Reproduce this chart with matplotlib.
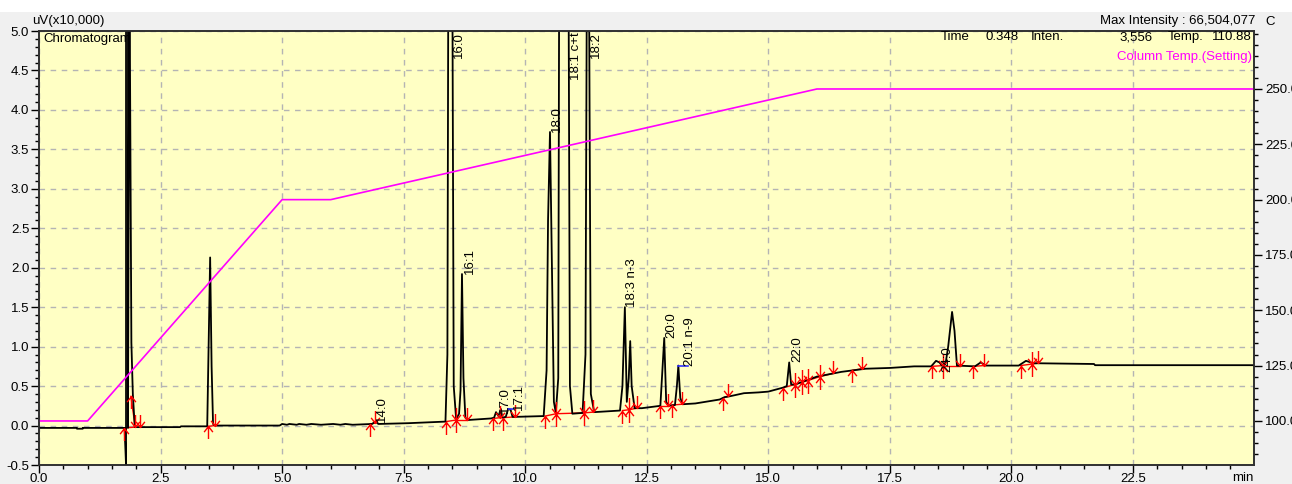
import numpy as np
import matplotlib.pyplot as plt
from matplotlib.path import Path
from matplotlib.patches import Rectangle
from matplotlib.ticker import MultipleLocator, FixedLocator, FormatStrFormatter

plt.rcParams['font.family'] = ['Liberation Sans', 'DejaVu Sans']
plt.rcParams['font.size'] = 9.5

# chromatogram trace, time (min) and signal (uV x10,000)
trace_t = [0.00, 0.78, 0.78, 0.90, 0.90, 1.76, 1.79, 1.80, 1.83, 1.86, 1.90, 1.93, 1.97,
           2.90, 2.92, 3.46, 3.52, 3.55, 3.58, 3.62, 4.95, 5.00, 5.10, 5.15, 5.30, 5.35,
           5.50, 5.60, 5.80, 6.05, 6.20, 6.30, 6.45, 6.85, 6.92, 6.98, 7.60, 8.00, 8.36,
           8.40, 8.42, 8.50, 8.53, 8.58, 8.64, 8.67, 8.70, 8.73, 8.77, 8.82, 9.30, 9.36,
           9.40, 9.45, 9.50, 9.53, 9.60, 9.65, 9.70, 9.74, 9.80, 10.38, 10.44, 10.47,
           10.51, 10.55, 10.59, 10.63, 10.68, 10.70, 10.89, 10.92, 10.97, 11.18, 11.24,
           11.27, 11.31, 11.35, 11.42, 11.95, 12.00, 12.05, 12.09, 12.13, 12.16, 12.19,
           12.25, 12.40, 12.78, 12.83, 12.86, 12.90, 12.95, 13.08, 13.12, 13.15, 13.19,
           13.24, 13.50, 14.00, 14.10, 14.20, 14.50, 14.80, 15.00, 15.30, 15.38, 15.43,
           15.47, 15.55, 16.00, 16.50, 17.00, 17.50, 18.00, 18.35, 18.45, 18.52, 18.57,
           18.65, 18.70, 18.78, 18.83, 18.88, 19.25, 19.37, 19.47, 20.15, 20.30, 20.45,
           21.70, 21.72, 25.00]
trace_y = [-0.03, -0.03, -0.04, -0.04, -0.03, -0.03, -0.50, 6650.4, -0.03, 6.0, 1.05, 0.40, -0.02,
           -0.02, -0.01, -0.01, 2.13, 0.75, 0.02, 0.00, 0.00, 0.02, 0.01, 0.02, 0.01, 0.02,
           0.01, 0.02, 0.01, 0.02, 0.01, 0.02, 0.01, 0.02, 0.05, 0.02, 0.03, 0.04, 0.05,
           0.90, 6.0, 6.0, 0.50, 0.08, 0.15, 0.45, 1.92, 0.60, 0.10, 0.07, 0.09, 0.10,
           0.17, 0.12, 0.21, 0.10, 0.11, 0.21, 0.20, 0.11, 0.11, 0.12, 0.70, 2.60,
           3.72, 2.00, 0.30, 0.16, 0.60, 6.0, 6.0, 0.50, 0.15, 0.16, 0.90,
           6.0, 6.0, 0.40, 0.17, 0.19, 0.50, 1.50, 0.30, 0.60, 1.07, 0.50,
           0.22, 0.22, 0.25, 0.80, 1.11, 0.30, 0.25, 0.26, 0.50, 0.76, 0.35,
           0.27, 0.28, 0.33, 0.36, 0.37, 0.41, 0.42, 0.43, 0.48, 0.50, 0.80,
           0.52, 0.52, 0.62, 0.68, 0.72, 0.73, 0.75, 0.75, 0.82, 0.80, 0.76,
           0.80, 1.00, 1.44, 1.20, 0.76, 0.75, 0.80, 0.76, 0.76, 0.82, 0.79,
           0.78, 0.765, 0.765]

# column temperature program
temp_t = [0.0, 1.0, 5.0, 6.0, 16.0, 25.0]
temp_c = [100.0, 100.0, 200.0, 200.0, 250.0, 250.0]
temp_ticks = [100, 125, 150, 175, 200, 225, 250]

# integration start / end points
start_t = [1.75, 1.89, 3.48, 6.81, 8.37, 8.58, 9.34, 9.55, 10.41, 10.64, 11.20, 12.00, 12.13,
           12.78, 13.02, 14.07, 15.31, 15.55, 15.70, 15.81, 16.06, 16.73, 18.36, 18.60,
           19.22, 20.19, 20.43]
start_y = [-0.03, 0.37, -0.01, 0.02, 0.05, 0.07, 0.09, 0.10, 0.12, 0.15, 0.16, 0.19, 0.20,
           0.25, 0.26, 0.35, 0.48, 0.52, 0.55, 0.57, 0.62, 0.70, 0.75, 0.76,
           0.75, 0.76, 0.78]
end_t = [1.98, 2.08, 3.62, 6.91, 8.58, 8.80, 9.49, 9.80, 10.64, 11.20, 11.40, 12.13, 12.30,
         12.94, 13.23, 14.18, 15.55, 15.70, 15.81, 16.06, 16.33, 16.93, 18.60, 18.94,
         19.43, 20.43, 20.55]
end_y = [-0.02, -0.02, 0.00, 0.03, 0.07, 0.07, 0.10, 0.11, 0.15, 0.16, 0.17, 0.20, 0.22,
         0.25, 0.27, 0.37, 0.52, 0.55, 0.57, 0.62, 0.66, 0.72, 0.76, 0.76,
         0.76, 0.78, 0.79]

# peak names
peak_names = ['14:0', '16:1', '17:0', '17:1', '18:0', '18:3 n-3', '20:0', '20:1 n-9', '22:0', '24:0']
peak_x = [6.93, 8.75, 9.47, 9.74, 10.53, 12.08, 12.88, 13.27, 15.48, 18.55]
peak_y = [0.04, 1.92, 0.16, 0.20, 3.72, 1.50, 1.11, 0.76, 0.80, 0.68]
top_names = ['16:0', '18:1 c+t', '18:2']
top_x = [8.52, 10.92, 11.33]

fig = plt.figure(figsize=(12.92, 4.84), dpi=100, facecolor='#f0f0f0')
fig.patches.append(Rectangle((0, 1 - 12 / 484), 1, 12 / 484, transform=fig.transFigure,
                             facecolor='white', edgecolor='none', zorder=-1))
ax = fig.add_axes([39 / 1292, 19 / 484, 1215 / 1292, 434 / 484])
ax.set_facecolor('#ffffc4')

ax.set_xlim(0, 24.99)
ax.set_ylim(-0.5, 5.0)
ax.xaxis.set_major_locator(MultipleLocator(2.5))
ax.xaxis.set_minor_locator(MultipleLocator(0.5))
ax.yaxis.set_major_locator(MultipleLocator(0.5))
ax.yaxis.set_minor_locator(MultipleLocator(0.1))
ax.xaxis.set_major_formatter(FormatStrFormatter('%.1f'))
ax.yaxis.set_major_formatter(FormatStrFormatter('%.1f'))
ax.grid(True, which='major', color='#b4b4b4', linestyle=(0, (4, 4)), linewidth=1)
ax.tick_params(which='major', length=6, width=1, direction='out', pad=1)
ax.tick_params(axis='x', which='major', pad=0)
ax.tick_params(which='minor', length=3, width=1, direction='out')
for s in ax.spines.values():
    s.set_color('#303030')
    s.set_linewidth(1.2)

ax.text(0.004, 0.995, 'Chromatogram', transform=ax.transAxes, va='top', ha='left',
        fontsize=9.5, zorder=1)

# red baselines under each integrated peak
for t0, y0 in zip(start_t, start_y):
    for t1, y1 in zip(end_t, end_y):
        if t1 > t0:
            ax.plot([t0, t1], [y0, y1], color='red', lw=1, zorder=2)
            break

ax.plot(trace_t, trace_y, color='black', lw=1.3, zorder=3)

up = Path([(0, -1), (0, 0), (-0.35, -0.45), (0, 0), (0.35, -0.45)],
          [Path.MOVETO, Path.LINETO, Path.MOVETO, Path.LINETO, Path.LINETO])
down = Path([(0, 1), (0, 0), (-0.35, 0.45), (0, 0), (0.35, 0.45)],
            [Path.MOVETO, Path.LINETO, Path.MOVETO, Path.LINETO, Path.LINETO])
ax.plot(start_t, start_y, ls='none', marker=up, ms=18, mfc='none', mec='red', mew=1, zorder=4)
ax.plot(end_t, end_y, ls='none', marker=down, ms=18, mfc='none', mec='red', mew=1, zorder=4)

# peak top markers
ax.plot([9.65, 9.74], [0.21, 0.21], color='#3030ff', lw=1.2, zorder=4)
ax.plot([13.15, 13.35], [0.76, 0.76], color='#3030ff', lw=1.2, zorder=4)

for name, x, y in zip(peak_names, peak_x, peak_y):
    ax.text(x, y, name, rotation=90, ha='left', va='bottom', fontsize=9.5, zorder=5)
for name, x in zip(top_names, top_x):
    ax.text(x, 4.99, name, rotation=90, ha='left', va='top', fontsize=9.5, zorder=5)

ax2 = ax.twinx()
ax2.set_ylim(80.1, 276.2)
ax2.plot(temp_t, temp_c, color='#ff00ff', lw=1.2)
ax2.yaxis.set_major_locator(FixedLocator(temp_ticks))
ax2.yaxis.set_minor_locator(MultipleLocator(5))
ax2.yaxis.set_major_formatter(FormatStrFormatter('%.1f'))
ax2.tick_params(which='major', length=6, width=1, direction='out', pad=2)
ax2.tick_params(which='minor', length=3, width=1, direction='out')
for s in ax2.spines.values():
    s.set_color('#303030')
    s.set_linewidth(1.2)

ax2.text(0.9985, 0.955, 'Column Temp.(Setting)', transform=ax2.transAxes, color='#ff00ff',
         ha='right', va='top', fontsize=9.5)

# readout line at top right
row_y = 1 - 37 / 484
fig.text(941 / 1292, row_y, 'Time', va='center', fontsize=9.5)
fig.text(985 / 1292, row_y, '0.348', va='center', fontsize=9.5)
fig.text(1031 / 1292, row_y, 'Inten.', va='center', fontsize=9.5)
fig.text(1153 / 1292, row_y, '3,556', va='center', ha='right', fontsize=9.5)
fig.text(1168 / 1292, row_y, 'Temp.', va='center', fontsize=9.5)
fig.text(1252 / 1292, row_y, '110.88', va='center', ha='right', fontsize=9.5)

fig.text(32 / 1292, 1 - 21 / 484, 'uV(x10,000)', va='center', ha='left', fontsize=9.5)
fig.text(1255 / 1292, 1 - 21 / 484, 'Max Intensity : 66,504,077', va='center', ha='right',
         fontsize=9.5)
fig.text(1265 / 1292, 1 - 22 / 484, 'C', va='center', ha='left', fontsize=9.5)
fig.text(1243 / 1292, 1 - 478 / 484, 'min', va='center', ha='center', fontsize=9.5)

fig.savefig('out.png', dpi=100, facecolor=fig.get_facecolor())
